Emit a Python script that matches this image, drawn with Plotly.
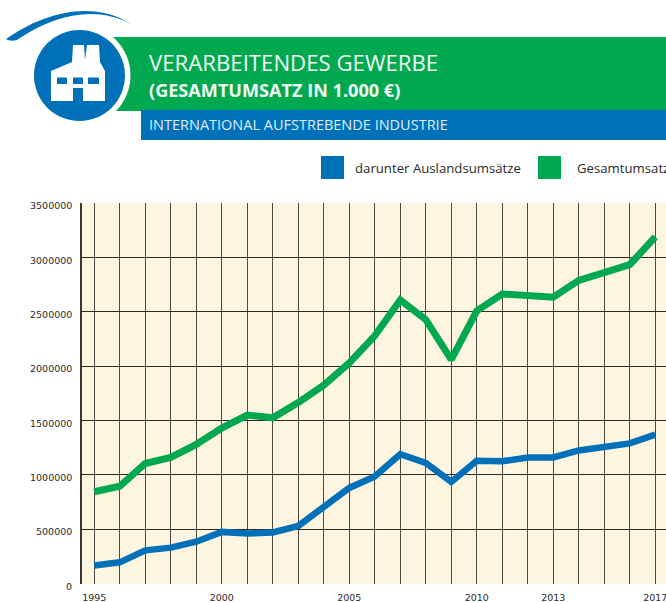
import plotly.graph_objects as go

years = list(range(1995, 2018))
ausland = [165000, 195000, 305000, 330000, 385000, 475000, 460000, 470000, 530000, 710000, 880000, 985000,
           1190000, 1110000, 935000, 1130000, 1125000, 1160000, 1160000, 1225000, 1255000, 1290000, 1370000]
gesamt = [845000, 895000, 1105000, 1160000, 1280000, 1430000, 1550000, 1525000, 1665000, 1825000, 2030000, 2280000,
          2610000, 2430000, 2060000, 2510000, 2665000, 2645000, 2635000, 2790000, 2860000, 2935000, 3190000]
x_labels = {1995: "1995", 2000: "2000", 2005: "2005", 2010: "2010", 2013: "2013", 2017: "2017"}
y_ticks = [0, 500000, 1000000, 1500000, 2000000, 2500000, 3000000, 3500000]

W, H = 720, 602
BLUE, GREEN = "#0070b8", "#00a94f"
HEAD = "Open Sans"
AXIS = "DejaVu Sans"
TXT = "#2b2a29"

def px(v): return v / W
def py(v): return 1 - v / H
def P(points):
    return "M" + " L".join(f"{px(a):.5f},{py(b):.5f}" for a, b in points) + " Z"
def pshape(path, color):
    return dict(type="path", xref="paper", yref="paper", path=path, fillcolor=color, line_width=0, layer="above")
def rect(x0, y0, x1, y1, color):
    return dict(type="rect", xref="paper", yref="paper", x0=px(x0), x1=px(x1), y0=py(y1), y1=py(y0),
                fillcolor=color, line_width=0, layer="above")
def circle(cx, cy, r, color):
    return dict(type="circle", xref="paper", yref="paper", x0=px(cx - r), x1=px(cx + r), y0=py(cy + r), y1=py(cy - r),
                fillcolor=color, line_width=0, layer="above")
def label(x, y, text, size, color, font=HEAD, anchor="left"):
    return dict(xref="paper", yref="paper", x=px(x), y=py(y), text=text, showarrow=False, xanchor=anchor,
                yanchor="middle", font=dict(family=font, size=size, color=color))

swoosh = ("M{},{} C{},{} {},{} {},{} C{},{} {},{} {},{} C{},{} {},{} {},{} Z").format(
    *[f"{v:.5f}" for v in [px(6), py(39), px(40), py(15), px(90), py(-2), px(131), py(24),
                           px(95), py(5), px(55), py(15), px(20), py(38), px(15), py(42), px(9), py(41), px(6), py(39)]])

factory = P([(51, 101), (51, 71), (72, 62), (73, 45), (84, 45), (85, 60), (87, 45), (99, 45), (100, 62), (105, 71),
             (105, 101), (83, 101), (83, 88), (73, 88), (73, 101)])

shapes = [
    rect(113, 37, 720, 111, GREEN),
    rect(141, 110, 720, 140, BLUE),
    circle(79.5, 75.5, 51, "white"),
    circle(79.5, 75.5, 45.5, BLUE),
    pshape(swoosh, BLUE),
    pshape(factory, "white"),
    rect(57, 77.5, 67, 84, BLUE),
    rect(73, 77.5, 83, 84, BLUE),
    rect(88, 77.5, 99, 84, BLUE),
    rect(321, 156, 344, 179, BLUE),
    rect(538, 156, 561, 179, GREEN),
]
annotations = [
    label(147, 62, "VERARBEITENDES GEWERBE", 22.2, "#f0f9f3"),
    label(147, 90, "<b>(GESAMTUMSATZ IN 1.000 €)</b>", 18.1, "#f0f9f3"),
    label(147, 124.5, "INTERNATIONAL AUFSTREBENDE INDUSTRIE", 14.5, "#dfeef7"),
    label(353, 168, "darunter Auslandsumsätze", 13.2, TXT),
    label(575, 168, "Gesamtumsatz", 13.2, TXT),
]
annotations += [
    dict(xref="paper", yref="y", x=px(73.5), y=v, yshift=-2.5, text=str(v), showarrow=False, xanchor="right",
         yanchor="middle", font=dict(family=AXIS, size=9.5, color=TXT))
    for v in y_ticks
]

fig = go.Figure()
fig.add_trace(go.Scatter(x=years, y=ausland, name="darunter Auslandsumsätze", mode="lines",
                         line=dict(color=BLUE, width=6.5, shape="linear")))
fig.add_trace(go.Scatter(x=years, y=gesamt, name="Gesamtumsatz", mode="lines",
                         line=dict(color=GREEN, width=7, shape="linear")))

fig.update_layout(
    width=W, height=H, autosize=False, showlegend=False,
    margin=dict(l=0, r=0, t=0, b=0, pad=0),
    paper_bgcolor="white", plot_bgcolor="#fdf5e0",
    shapes=shapes, annotations=annotations,
    xaxis=dict(domain=[81.5 / W, 668.0 / W], range=[1994.5, 2017.5], tickmode="array", tickvals=years, automargin=False,
               ticktext=[x_labels.get(y, "") for y in years], showgrid=True, gridcolor="#4a483f", gridwidth=1,
               showline=False, zeroline=False, ticks="", ticklabelstandoff=7,
               tickfont=dict(family=AXIS, size=9.5, color=TXT)),
    yaxis=dict(domain=[1 - 583.5 / H, 1 - 203.3 / H], range=[0, 3500000], tickmode="array", tickvals=y_ticks, automargin=False,
               showticklabels=False, showgrid=True, gridcolor="#2a2820", gridwidth=1,
               zeroline=False, showline=True, linecolor="#3a3830", linewidth=1.5, mirror=True, ticks=""),
)
fig.write_html("out.html", config={"displayModeBar": False},
               post_script="document.body.style.margin='0';document.body.style.overflow='hidden';document.documentElement.style.overflow='hidden';")
